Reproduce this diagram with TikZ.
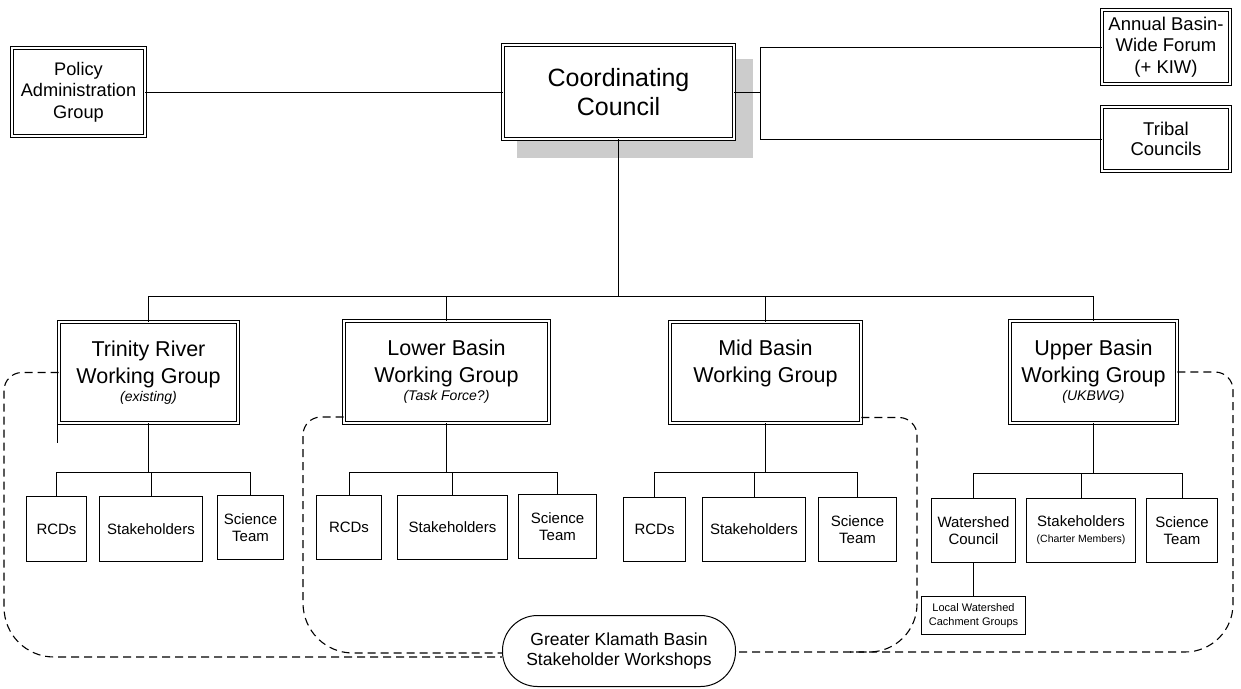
\documentclass[tikz,border=0pt]{standalone}
\usepackage{fontspec}
\setmainfont{Liberation Sans}
\usetikzlibrary{calc}

\tikzset{
  council/.style={draw, double, double distance=2pt, line width=0.9pt, fill=white, align=center, inner sep=0pt},
  member/.style={draw, line width=1pt, fill=white, align=center, inner sep=0pt},
  link/.style={line width=1pt},
  trunk/.style={line width=1.6pt},
  zone/.style={line width=1.1pt, dash pattern=on 8pt off 5pt},
}
\newcommand{\setsz}[2]{\fontsize{#1}{#2}\selectfont}
\newcommand{\wgnote}[1]{{\setsz{14}{17}\itshape #1}}

\begin{document}
\begin{tikzpicture}[x=1pt,y=-1pt]
\useasboundingbox (0,0) rectangle (1241,688);
\fill[black!20] (517,59) rectangle (753,158);

\node[council, minimum width=133pt, minimum height=88pt, font=\setsz{18.2}{21.5}] (pag) at (78.5,92) {Policy\\Administration\\Group};
\node[council, minimum width=231pt, minimum height=94pt, font=\setsz{25}{29}] (cc) at (618.5,92) {Coordinating\\Council};
\node[council, minimum width=128pt, minimum height=74pt, font=\setsz{18.5}{21.5}] (forum) at (1166,47) {Annual Basin-\\Wide Forum\\(+ KIW)};
\node[council, minimum width=128pt, minimum height=64pt, font=\setsz{18.5}{20}] (tribal) at (1166,139) {Tribal\\Councils};

\node[council, minimum width=179pt, minimum height=101pt, font=\setsz{21.5}{27}] (trinity) at (148.5,372.5) {Trinity River\\Working Group\\[-9pt]\wgnote{(existing)}};
\node[council, minimum width=205pt, minimum height=102pt, font=\setsz{21.5}{27}] (lower) at (446.5,372) {Lower Basin\\Working Group\\[-9pt]\wgnote{(Task Force?)}};
\node[council, minimum width=191pt, minimum height=101pt, font=\setsz{21.5}{27}] (mid) at (765.5,372.5) {Mid Basin\\Working Group\\[-9pt]\wgnote{\strut}};
\node[council, minimum width=167pt, minimum height=102pt, font=\setsz{21.5}{27}] (upper) at (1093.5,372) {Upper Basin\\Working Group\\[-9pt]\wgnote{(UKBWG)}};

\node[member, minimum width=60pt, minimum height=65pt, font=\setsz{15}{17}] (trrcds) at (56.5,529) {RCDs};
\node[member, minimum width=103pt, minimum height=65pt, font=\setsz{15}{17}] (trstake) at (151,529) {Stakeholders};
\node[member, minimum width=66pt, minimum height=64pt, font=\setsz{15}{17}] (trsci) at (250.5,527.5) {Science\\Team};

\node[member, minimum width=65pt, minimum height=64pt, font=\setsz{15}{17}] (lwrcds) at (349,527.5) {RCDs};
\node[member, minimum width=110pt, minimum height=64pt, font=\setsz{15}{17}] (lwstake) at (452.5,527.5) {Stakeholders};
\node[member, minimum width=78pt, minimum height=64pt, font=\setsz{15}{17}] (lwsci) at (557.5,526.5) {Science\\Team};

\node[member, minimum width=62pt, minimum height=64pt, font=\setsz{15}{17}] (mdrcds) at (654.5,529.5) {RCDs};
\node[member, minimum width=103pt, minimum height=64pt, font=\setsz{15}{17}] (mdstake) at (754,529.5) {Stakeholders};
\node[member, minimum width=78pt, minimum height=64pt, font=\setsz{15}{17}] (mdsci) at (857.5,529.5) {Science\\Team};

\node[member, minimum width=84pt, minimum height=64pt, font=\setsz{15}{17}] (upwater) at (973.5,530.5) {Watershed\\Council};
\node[member, minimum width=109pt, minimum height=64pt, font=\setsz{15}{16}] (upstake) at (1081,530.5) {Stakeholders\\{\setsz{10.5}{12}(Charter Members)}};
\node[member, minimum width=71pt, minimum height=64pt, font=\setsz{15}{17}] (upsci) at (1182,530.5) {Science\\Team};
\node[member, minimum width=104pt, minimum height=38pt, font=\setsz{11}{13.5}] (uplocal) at (973.5,615.5) {Local Watershed\\Cachment Groups};

\node[member, rounded corners=35pt, minimum width=233pt, minimum height=71pt, font=\setsz{17.5}{20}] (workshop) at (619,651) {Greater Klamath Basin\\Stakeholder Workshops};

\draw[link] (pag.east) -- (cc.west);
\coordinate (fork) at (760,92);
\draw[link] (cc.east) -- (fork);
\draw[link] (forum.west) -| (fork) |- (tribal.west);

\coordinate (ccbus) at (618.5,296);
\draw[trunk] (cc.south) -- (ccbus);
\draw[link] (ccbus) -| (trinity.north);
\draw[link] (ccbus) -| (lower.north);
\draw[link] (ccbus) -| (mid.north);
\draw[link] (ccbus) -| (upper.north);

\coordinate (trbus) at (148.5,472);
\draw[trunk] (trinity.south) -- (trbus);
\draw[link] (trbus) -| (trrcds.north);
\draw[link] (trbus) -| (trstake.north);
\draw[link] (trbus) -| (trsci.north);

\coordinate (lwbus) at (446.5,472);
\draw[trunk] (lower.south) -- (lwbus);
\draw[link] (lwbus) -| (lwrcds.north);
\draw[link] (lwbus) -| (lwstake.north);
\draw[link] (lwbus) -| (lwsci.north);

\coordinate (mdbus) at (765.5,472);
\draw[trunk] (mid.south) -- (mdbus);
\draw[link] (mdbus) -| (mdrcds.north);
\draw[link] (mdbus) -| (mdstake.north);
\draw[link] (mdbus) -| (mdsci.north);

\coordinate (upbus) at (1093.5,473);
\draw[trunk] (upper.south) -- (upbus);
\draw[link] (upbus) -| (upwater.north);
\draw[link] (upbus) -| (upstake.north);
\draw[link] (upbus) -| (upsci.north);
\draw[link] (upwater.south) -- (uplocal.north);

\draw[link] ([xshift=-1pt,yshift=5pt]trinity.south west) -- ++(0,25);

\draw[zone] (trinity.west) -- (22,372.5) arc[start angle=270, end angle=180, radius=18]
  -- (4,607) arc[start angle=180, end angle=90, radius=50] -- ($(workshop.west)+(0,6)$);
\draw[zone] ($(lower.west)+(0,45)$) -- (321,417) arc[start angle=270, end angle=180, radius=18]
  -- (303,603) arc[start angle=180, end angle=90, radius=50] -- ($(workshop.west)+(0,2)$);
\draw[zone] ($(mid.east)+(0,45)$) -- (899,417.5) arc[start angle=270, end angle=360, radius=18]
  -- (917,604) arc[start angle=0, end angle=90, radius=48] -- (850,652);
\draw[zone] (upper.east) -- (1215,372) arc[start angle=270, end angle=360, radius=18]
  -- (1233,604) arc[start angle=0, end angle=90, radius=48] -- ($(workshop.east)+(0,1)$);
\end{tikzpicture}
\end{document}
